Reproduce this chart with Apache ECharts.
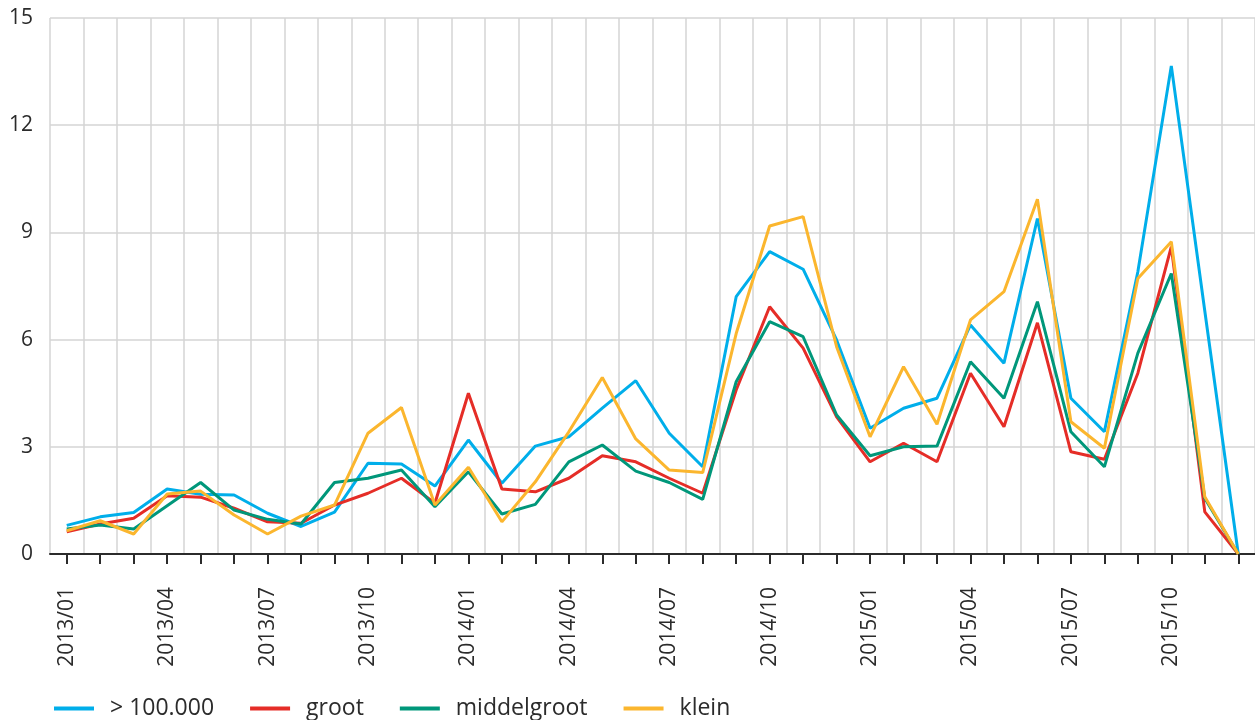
<!DOCTYPE html>
<html>
<head>
<meta charset="utf-8">
<script src="https://cdn.jsdelivr.net/npm/echarts@6/dist/echarts.min.js"></script>
<style>
  html, body { margin: 0; padding: 0; background: #ffffff; }
  #chart { width: 1255px; height: 720px; }
</style>
</head>
<body>
<div id="chart"></div>
<script>
// Monthly categories 2013/01 – 2015/12
const months = [];
for (const y of [2013, 2014, 2015]) {
  for (let m = 1; m <= 12; m++) months.push(y + '/' + String(m).padStart(2, '0'));
}

const seriesNames = ['> 100.000', 'groot', 'middelgroot', 'klein'];

const zeerGroot = [0.80, 1.04, 1.16, 1.82, 1.67, 1.65, 1.14, 0.77, 1.17, 2.54, 2.52, 1.90,
                   3.19, 1.98, 3.02, 3.28, 4.08, 4.85, 3.38, 2.44, 7.20, 8.46, 7.97, 5.99,
                   3.52, 4.08, 4.36, 6.41, 5.34, 9.39, 4.36, 3.42, 7.90, 13.66, 6.80, 0];
const groot = [0.62, 0.84, 1.00, 1.63, 1.59, 1.28, 0.90, 0.86, 1.37, 1.70, 2.12, 1.42,
               4.50, 1.82, 1.74, 2.12, 2.75, 2.58, 2.12, 1.70, 4.59, 6.92, 5.76, 3.84,
               2.58, 3.10, 2.58, 5.06, 3.56, 6.47, 2.86, 2.65, 5.06, 8.60, 1.18, 0];
const middelgroot = [0.70, 0.81, 0.70, 1.35, 2.00, 1.23, 0.97, 0.84, 2.00, 2.12, 2.35, 1.32,
                     2.30, 1.12, 1.39, 2.58, 3.05, 2.32, 2.00, 1.53, 4.82, 6.50, 6.08, 3.89,
                     2.75, 3.00, 3.02, 5.38, 4.36, 7.06, 3.42, 2.44, 5.62, 7.85, 1.56, 0];
const klein = [0.65, 0.93, 0.56, 1.68, 1.76, 1.09, 0.56, 1.06, 1.37, 3.38, 4.10, 1.37,
               2.43, 0.90, 2.02, 3.42, 4.94, 3.22, 2.35, 2.28, 6.17, 9.18, 9.44, 5.80,
               3.28, 5.24, 3.63, 6.55, 7.34, 9.93, 3.70, 2.96, 7.71, 8.74, 1.60, 0];

const colors = ['#00aeea', '#e52d27', '#00977a', '#fbb62e'];
const values = [zeerGroot, groot, middelgroot, klein];

const FONT = '"Open Sans", "Noto Sans", sans-serif';
const TEXT = '#2b2b2b';
const GRID = '#d4d4d4';

const chart = echarts.init(document.getElementById('chart'), null, { renderer: 'canvas' });

chart.setOption({
  animation: false,
  textStyle: { fontFamily: FONT },
  grid: { left: 50, right: 0, top: 18, bottom: 166 },
  legend: {
    left: 54,
    top: 697,
    padding: 0,
    icon: 'rect',
    itemWidth: 40,
    itemHeight: 4,
    itemGap: 36,
    textStyle: { fontFamily: FONT, fontSize: 23, color: TEXT, padding: [0, 0, 0, 11] },
    data: seriesNames
  },
  xAxis: {
    type: 'category',
    data: months,
    boundaryGap: true,
    axisLine: { lineStyle: { color: TEXT, width: 2 } },
    axisTick: { show: true, alignWithLabel: true, interval: 0, length: 10, lineStyle: { color: TEXT, width: 2 } },
    axisLabel: {
      interval: 2,
      rotate: 90,
      margin: 33,
      fontFamily: FONT,
      fontSize: 21,
      color: TEXT
    },
    splitLine: { show: true, interval: 0, lineStyle: { color: GRID, width: 1.5 } }
  },
  yAxis: {
    type: 'value',
    min: 0,
    max: 15,
    interval: 3,
    axisLine: { show: false },
    axisTick: { show: false },
    axisLabel: { margin: 17, fontFamily: FONT, fontSize: 21, color: TEXT },
    splitLine: { lineStyle: { color: GRID, width: 1.5 } }
  },
  series: seriesNames.map((name, i) => ({
    name,
    type: 'line',
    data: values[i],
    symbol: 'none',
    color: colors[i],
    lineStyle: { width: 3, color: colors[i] }
  }))
});
</script>
</body>
</html>
